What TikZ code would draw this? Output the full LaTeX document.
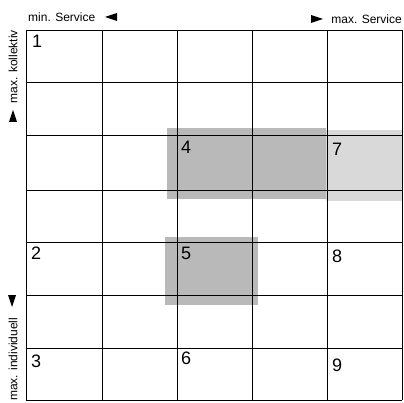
\documentclass[tikz,border=0pt]{standalone}
\usepackage{fontspec}
\setmainfont{Liberation Sans}
\begin{document}
\begin{tikzpicture}[x=1pt,y=-1pt,
  gridline/.style={line width=0.9pt,black},
  num/.style={anchor=north west,inner sep=0pt,font=\fontsize{18}{18}\selectfont},
  lab/.style={inner sep=0pt,font=\fontsize{12}{12}\selectfont},
  tri/.style={fill=black}]
\useasboundingbox (0,0) rectangle (404,403);
% shaded regions
\fill[gray!55] (167,128) rectangle (326,199);
\fill[gray!30] (326,130) rectangle (403,201);
\fill[gray!55] (165,237) rectangle (258,305);
% grid
\foreach \xx in {26,102,177,252,327,402} \draw[gridline] (\xx,30) -- (\xx,400);
\foreach \yy in {30,82,135,190,242,295,348,400} \draw[gridline] (26,\yy) -- (402,\yy);
% numbers
\node[num] (n1) at (32,35) {1};
\node[num] (n2) at (31,247) {2};
\node[num] (n3) at (31,355) {3};
\node[num] (n4) at (181,141) {4};
\node[num] (n5) at (181,247) {5};
\node[num] (n6) at (181,352) {6};
\node[num] (n7) at (332,143) {7};
\node[num] (n8) at (332,250) {8};
\node[num] (n9) at (332,359) {9};
% top labels
\node[lab,anchor=west] (minS) at (28,17) {min. Service};
\fill[tri] (105,17) -- (117,13) -- (117,21) -- cycle;
\node[lab,anchor=east] (maxS) at (402,19) {max. Service};
\fill[tri] (323,19) -- (311,15) -- (311,23) -- cycle;
% left labels
\node[lab,anchor=east,rotate=90] (kol) at (13,30) {max. kollektiv};
\fill[tri] (13,110) -- (9,122) -- (17,122) -- cycle;
\node[lab,anchor=west,rotate=90] (ind) at (13,401) {max. individuell};
\fill[tri] (12,307) -- (8,295) -- (16,295) -- cycle;
\end{tikzpicture}
\end{document}
